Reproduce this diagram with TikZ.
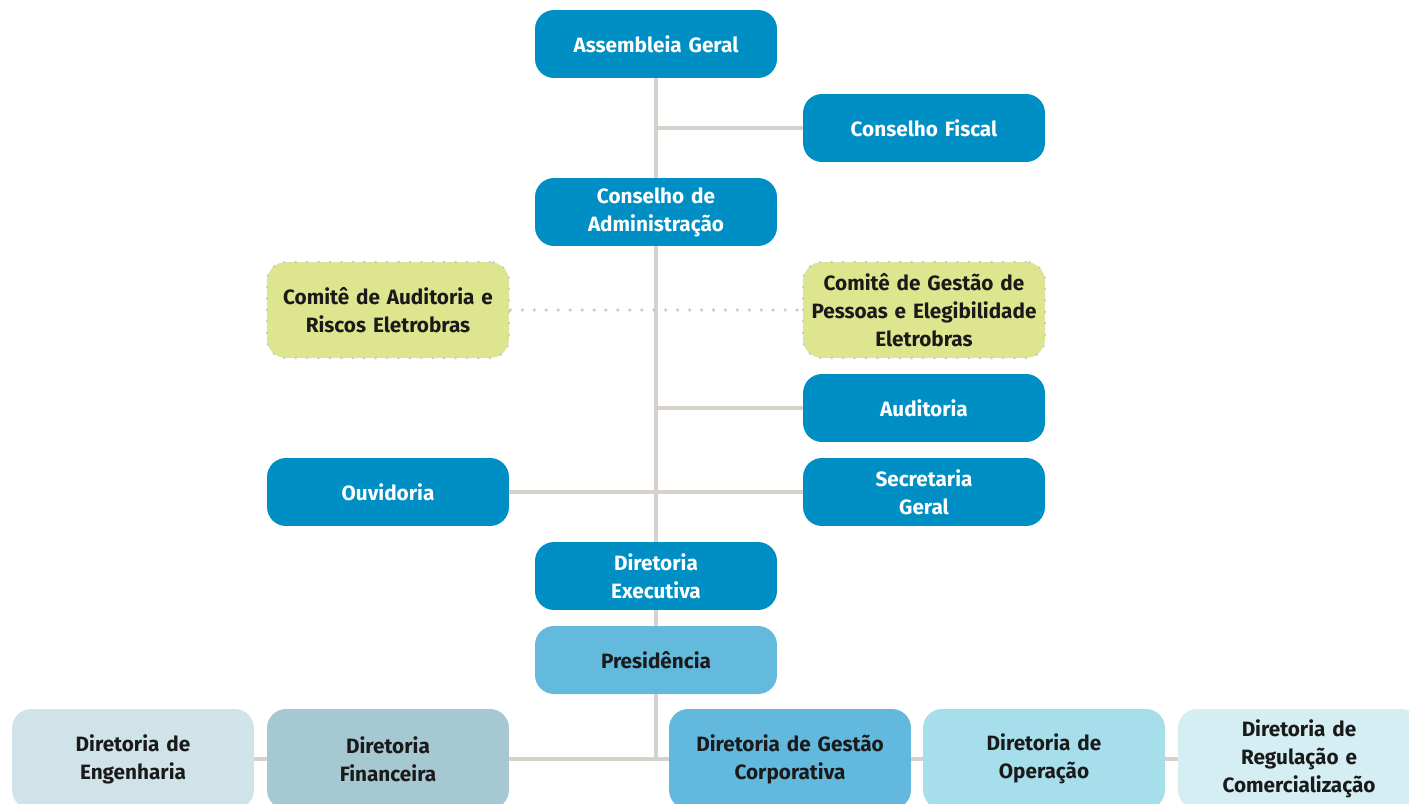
\documentclass[tikz,border=0pt]{standalone}
\usepackage{fontspec}
\setmainfont{Fira Sans}
\usetikzlibrary{backgrounds,positioning}

\definecolor{orgblue}{HTML}{008FC4}
\definecolor{presblue}{HTML}{64BADD}
\definecolor{engcol}{HTML}{D0E3E9}
\definecolor{fincol}{HTML}{A6C8D2}
\definecolor{gestcol}{HTML}{62B9DD}
\definecolor{opcol}{HTML}{A6DEEB}
\definecolor{regcol}{HTML}{D4EEF4}
\definecolor{comcol}{HTML}{DDE68E}
\definecolor{linecol}{HTML}{D6D2CB}
\definecolor{dotcol}{HTML}{CACACA}
\definecolor{inkcol}{HTML}{1A1A1A}

\begin{document}
\begin{tikzpicture}[x=0.02cm,y=-0.02cm,
    box/.style={rectangle, rounded corners=0.38cm, minimum width=4.84cm,
                minimum height=1.36cm, text width=4.6cm, align=center,
                font=\fontsize{11.8pt}{15.9pt}\selectfont\bfseries, inner sep=0pt},
    mainbox/.style={box, fill=orgblue, text=white},
    lightbox/.style={box, text=inkcol},
    combox/.style={lightbox, fill=comcol, minimum height=1.92cm, draw=dotcol,
                   line width=1.6pt, dash pattern=on 0pt off 6.5pt, line cap=round},
    dirbox/.style={lightbox, minimum height=2cm},
    link/.style={draw=linecol, line width=2.3pt},
    dotlink/.style={draw=dotcol, line width=2pt, dash pattern=on 0pt off 6.8pt, line cap=round}]
        \useasboundingbox (0,0) rectangle (1409,804);

        \node[mainbox] at (656,44) (ag) {Assembleia Geral};
        \node[mainbox] at (924,128) (cf) {Conselho Fiscal};
        \node[mainbox] at (656,212) (ca) {Conselho de\\Administração};
        \node[combox] at (388,310) (cau) {Comitê de Auditoria e\\Riscos Eletrobras};
        \node[combox] at (924,310) (cgp) {Comitê de Gestão de\\Pessoas e Elegibilidade\\Eletrobras};
        \node[mainbox] at (924,408) (aud) {Auditoria};
        \node[mainbox] at (388,492) (ouv) {Ouvidoria};
        \node[mainbox] at (924,492) (sec) {Secretaria\\Geral};
        \node[mainbox] at (656,576) (dex) {Diretoria\\Executiva};
        \node[lightbox, fill=presblue] at (656,660) (pres) {Presidência};

        % diretorias
        \node[dirbox, fill=engcol] at (133,759) (eng) {Diretoria de\\Engenharia};
        \node[dirbox, fill=fincol] at (388,759) (fin) {Diretoria\\Financeira};
        \node[dirbox, fill=gestcol] at (790,759) (gest) {Diretoria de Gestão\\Corporativa};
        \node[dirbox, fill=opcol] at (1044,759) (op) {Diretoria de\\Operação};
        \node[dirbox, fill=regcol] at (1299,759) (reg) {Diretoria de\\Regulação e\\Comercialização};

        \begin{scope}[on background layer]
            \draw[link] (ag) -- (ag |- eng);
            \draw[link] (ag |- cf) -- (cf);
            \draw[link] (ag |- aud) -- (aud);
            \draw[link] (ouv) -- (sec);
            \draw[link] (eng) -- (reg);
            \draw[dotlink] (cau.east) -- (cgp.west);
        \end{scope}
    \end{tikzpicture}
\end{document}
